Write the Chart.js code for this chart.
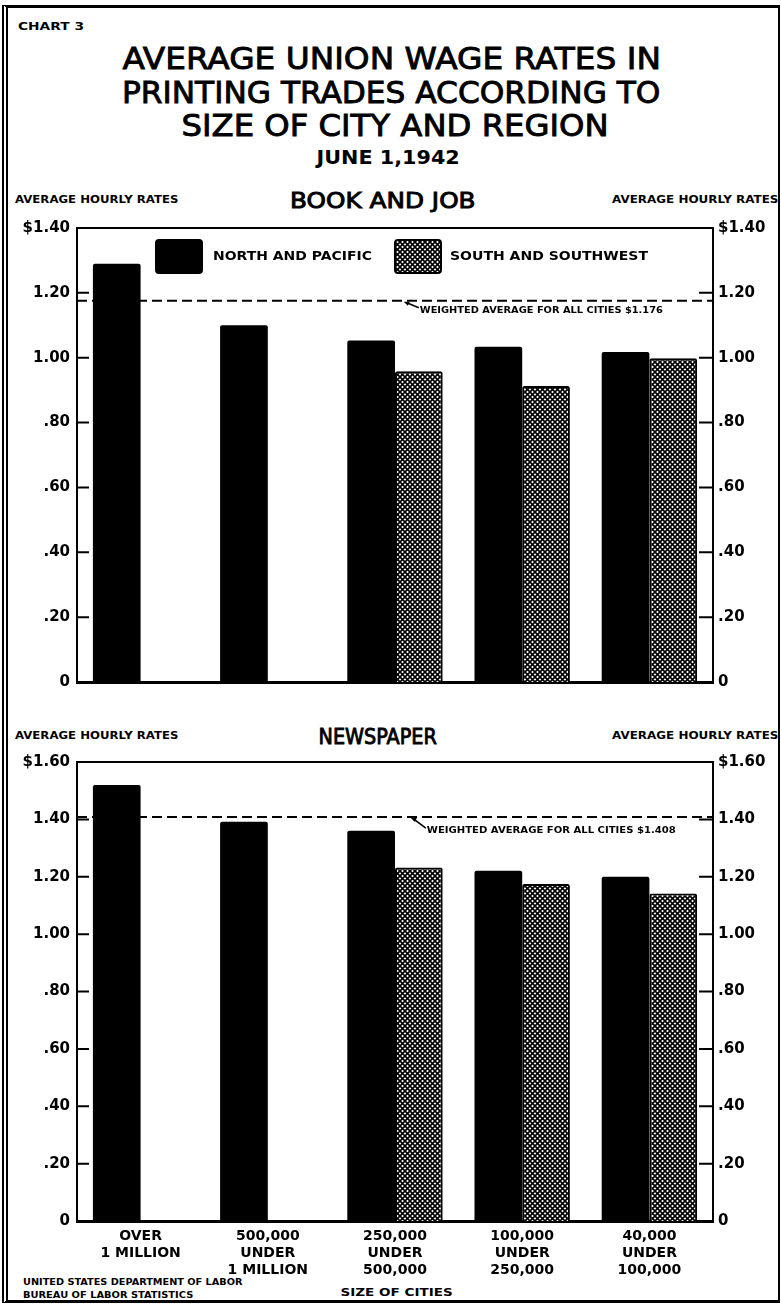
<!DOCTYPE html>
<html>
<head>
<meta charset="utf-8">
<script src="https://cdn.jsdelivr.net/npm/chart.js@4.4.1/dist/chart.umd.min.js"></script>
<style>
  body { margin: 0; width: 781px; height: 1311px; position: relative; overflow: hidden; background: #fff; font-family: "DejaVu Sans", sans-serif; color: #000; }
  .frame { position: absolute; left: 2px; top: 5px; width: 770px; height: 1292px; border-top: 3px solid #000; border-bottom: 3px solid #000; border-left: 6px double #000; border-right: 2px solid #000; }
  .t { position: absolute; white-space: nowrap; font-weight: bold; line-height: 1; }
  .big { font-weight: normal; -webkit-text-stroke: 0.9px #000; }
  canvas { position: absolute; left: 0; }
</style>
</head>
<body>
<div class="frame"></div>

<div class="t" data-x="18" data-y="27" data-s="10" data-w="66" data-a="l">CHART 3</div>
<div class="t big" data-x="391" data-y="58" data-s="31" data-w="538" data-a="c">AVERAGE UNION WAGE RATES IN</div>
<div class="t big" data-x="391" data-y="92" data-s="31" data-w="538" data-a="c">PRINTING TRADES ACCORDING TO</div>
<div class="t big" data-x="395" data-y="125" data-s="31" data-w="427" data-a="c">SIZE OF CITY AND REGION</div>
<div class="t" data-x="388" data-y="157" data-s="20" data-w="143" data-a="c">JUNE 1,1942</div>

<div class="t" data-x="15" data-y="200" data-s="10" data-w="163" data-a="l">AVERAGE HOURLY RATES</div>
<div class="t big" data-x="383" data-y="201" data-s="21" data-w="186" data-a="c">BOOK AND JOB</div>
<div class="t" data-x="612" data-y="200" data-s="10" data-w="166" data-a="l">AVERAGE HOURLY RATES</div>

<div class="t" data-x="15" data-y="736" data-s="10" data-w="163" data-a="l">AVERAGE HOURLY RATES</div>
<div class="t big" data-x="377" data-y="737" data-s="21" data-w="118" data-a="c">NEWSPAPER</div>
<div class="t" data-x="612" data-y="736" data-s="10" data-w="166" data-a="l">AVERAGE HOURLY RATES</div>

<div class="t" data-x="396" data-y="1292" data-s="11" data-w="112" data-a="c">SIZE OF CITIES</div>
<div class="t" data-x="23" data-y="1283" data-s="8" data-w="220" data-a="l">UNITED STATES DEPARTMENT OF LABOR</div>
<div class="t" data-x="23" data-y="1296" data-s="8" data-w="170" data-a="l">BUREAU OF LABOR STATISTICS</div>

<canvas id="bookChart" width="781" height="486" style="top:212px"></canvas>
<canvas id="newsChart" width="781" height="535" style="top:746px"></canvas>

<script>
// size of city groups
const cityLabels = [
    ['OVER', '1 MILLION'],
    ['500,000', 'UNDER', '1 MILLION'],
    ['250,000', 'UNDER', '500,000'],
    ['100,000', 'UNDER', '250,000'],
    ['40,000', 'UNDER', '100,000']
];
const regionNames = ['NORTH AND PACIFIC', 'SOUTH AND SOUTHWEST'];

// book and job, $ per hour
const bookNorth = [1.29, 1.10, 1.053, 1.034, 1.018];
const bookSouth = [null, null, 0.958, 0.913, 0.998];
const bookAverage = 1.176;
const bookMax = 1.40;

// newspaper, $ per hour
const newsNorth = [1.52, 1.392, 1.36, 1.221, 1.20];
const newsSouth = [null, null, 1.232, 1.175, 1.142];
const newsAverage = 1.408;
const newsMax = 1.60;

const FONT = '"DejaVu Sans", sans-serif';
Chart.defaults.font.family = FONT;
Chart.defaults.color = '#000';

// place the html labels, squeezing each to its width
document.querySelectorAll('.t').forEach(el => {
    const size = +el.dataset.s;
    el.style.fontSize = size + 'px';
    const w = el.offsetWidth;
    const sx = +el.dataset.w / w;
    const x = +el.dataset.x;
    el.style.top = (+el.dataset.y - 0.48 * size) + 'px';
    if (el.dataset.a === 'c') {
        el.style.left = (x - w / 2) + 'px';
        el.style.transformOrigin = '50% 50%';
    } else {
        el.style.left = x + 'px';
        el.style.transformOrigin = '0 50%';
    }
    el.style.transform = 'scaleX(' + sx + ')';
});

function hatchPattern() {
    const c = document.createElement('canvas');
    c.width = c.height = 5;
    const g = c.getContext('2d');
    g.fillStyle = '#fff';
    g.fillRect(0, 0, 5, 5);
    g.strokeStyle = '#000';
    g.lineWidth = 1.6;
    g.beginPath();
    g.moveTo(-1, -1); g.lineTo(6, 6);
    g.moveTo(6, -1); g.lineTo(-1, 6);
    g.stroke();
    return g.createPattern(c, 'repeat');
}
const hatch = hatchPattern();

function fitText(ctx, text, x, cy, size, width) {
    ctx.save();
    ctx.font = 'bold ' + size + 'px ' + FONT;
    ctx.textBaseline = 'middle';
    ctx.textAlign = 'left';
    const w = ctx.measureText(text).width;
    ctx.translate(x, cy);
    ctx.scale(width / w, 1);
    ctx.fillStyle = '#000';
    ctx.fillText(text, 0, 0);
    ctx.restore();
}

function tickText(v, max) {
    if (Math.abs(v) < 1e-6) return '0';
    if (Math.abs(v - max) < 1e-6) return '$' + v.toFixed(2);
    return v > 0.999 ? v.toFixed(2) : v.toFixed(2).slice(1);
}

// dashed weighted average, arrow note, legend, inner ticks, top frame line
const decorPlugin = {
    id: 'decor',
    beforeDatasetsDraw(chart, args, opts) {
        const { ctx, chartArea: a, scales: { y } } = chart;
        const py = y.getPixelForValue(opts.average);
        ctx.save();
        ctx.setLineDash([10, 5]);
        ctx.lineWidth = 2;
        ctx.strokeStyle = '#000';
        ctx.beginPath();
        ctx.moveTo(a.left, py);
        ctx.lineTo(a.right, py);
        ctx.stroke();
        ctx.restore();
    },
    afterDraw(chart, args, opts) {
        const { ctx, chartArea: a, scales: { y } } = chart;
        const py = y.getPixelForValue(opts.average);
        const tx = a.left + opts.noteX * (a.right - a.left);
        const ty = py + opts.noteDy;
        fitText(ctx, opts.note, tx, ty, 8, opts.noteW);

        ctx.save();
        ctx.strokeStyle = '#000';
        ctx.fillStyle = '#000';
        ctx.lineWidth = 1.6;
        ctx.beginPath();
        ctx.moveTo(tx - 1, ty - 3);
        ctx.lineTo(tx - 13, py + 2);
        ctx.stroke();
        ctx.beginPath();
        ctx.moveTo(tx - 16, py + 1);
        ctx.lineTo(tx - 10, py + 1);
        ctx.lineTo(tx - 12, py + 5);
        ctx.fill();

        // top frame line
        ctx.lineWidth = 2;
        ctx.beginPath();
        ctx.moveTo(a.left - 1, a.top);
        ctx.lineTo(a.right + 1, a.top);
        ctx.stroke();

        // inward tick marks on both axes
        y.ticks.forEach(t => {
            if (Math.abs(t.value) < 1e-6 || Math.abs(t.value - y.max) < 1e-6) return;
            const ty2 = y.getPixelForValue(t.value);
            ctx.beginPath();
            ctx.moveTo(a.left, ty2); ctx.lineTo(a.left + 12, ty2);
            ctx.moveTo(a.right - 14, ty2); ctx.lineTo(a.right, ty2);
            ctx.stroke();
        });

        if (opts.legend) {
            const ds = chart.data.datasets;
            const by = a.top + 12;
            [[79, 136, 159], [318, 373, 198]].forEach((p, i) => {
                ctx.fillStyle = ds[i].backgroundColor;
                ctx.beginPath();
                ctx.roundRect(a.left + p[0], by, 46, 33, 3);
                ctx.fill();
                ctx.lineWidth = 2;
                ctx.strokeStyle = '#000';
                ctx.stroke();
                fitText(ctx, ds[i].label, a.left + p[1], by + 17, 13, p[2]);
            });
        }
        ctx.restore();
    }
};

function makeChart(id, north, south, max, average, note, noteX, noteDy, noteW, showLabels, legend) {
    return new Chart(document.getElementById(id), {
        type: 'bar',
        data: {
            labels: cityLabels,
            datasets: [{
                label: regionNames[0],
                data: north,
                backgroundColor: '#000',
                borderColor: '#000',
                borderWidth: 0,
                borderRadius: 2,
                categoryPercentage: 0.75,
                barPercentage: 1.0
            }, {
                label: regionNames[1],
                data: south,
                backgroundColor: hatch,
                borderColor: '#000',
                borderWidth: 2,
                borderRadius: 2,
                categoryPercentage: 0.75,
                barPercentage: 1.0
            }]
        },
        options: {
            responsive: false,
            animation: false,
            layout: { padding: { top: 10, left: 0, right: 0, bottom: 0 } },
            plugins: {
                legend: { display: false },
                tooltip: { enabled: false },
                decor: { average: average, note: note, noteX: noteX, noteDy: noteDy, noteW: noteW, legend: legend }
            },
            scales: {
                x: {
                    grid: { display: false, drawTicks: false },
                    border: { display: true, width: 3, color: '#000' },
                    ticks: {
                        display: showLabels,
                        autoSkip: false,
                        maxRotation: 0,
                        padding: 7,
                        font: { size: 14, weight: 'bold', lineHeight: 1.2 }
                    },
                    afterFit: s => { s.height = showLabels ? 60 : 14; }
                },
                y: {
                    position: 'left',
                    min: 0,
                    max: max,
                    grid: { display: false, drawTicks: false },
                    border: { display: true, width: 2, color: '#000' },
                    ticks: { stepSize: 0.2, padding: 7, font: { size: 15, weight: 'bold' }, callback: v => tickText(v, max) },
                    afterFit: s => { s.width = 77; }
                },
                y1: {
                    position: 'right',
                    display: true,
                    min: 0,
                    max: max,
                    grid: { display: false, drawTicks: false },
                    border: { display: true, width: 2, color: '#000' },
                    ticks: { stepSize: 0.2, padding: 5, font: { size: 15, weight: 'bold' }, callback: v => tickText(v, max) },
                    afterFit: s => { s.width = 68; }
                }
            }
        },
        plugins: [decorPlugin]
    });
}

makeChart('bookChart', bookNorth, bookSouth, bookMax, bookAverage,
    'WEIGHTED AVERAGE FOR ALL CITIES $1.176', 0.539, 10, 243, false, true);
makeChart('newsChart', newsNorth, newsSouth, newsMax, newsAverage,
    'WEIGHTED AVERAGE FOR ALL CITIES $1.408', 0.55, 14, 249, true, false);
</script>
</body>
</html>
